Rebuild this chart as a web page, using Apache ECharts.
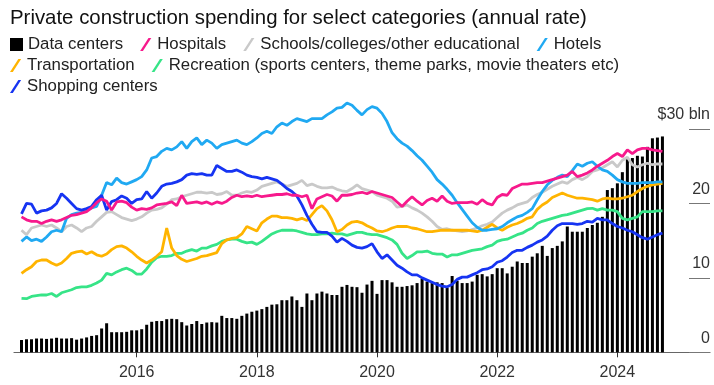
<!DOCTYPE html>
<html>
<head>
<meta charset="utf-8">
<script src="https://cdn.jsdelivr.net/npm/echarts@6/dist/echarts.min.js"></script>
<style>
  html, body { margin: 0; padding: 0; background: #fff; }
  #chart { width: 714px; height: 385px; }
</style>
</head>
<body>
<div id="chart"></div>
<script>
// Monthly private construction spending, Feb 2014 - Oct 2024, $ billions (annual rate)
const dataCenters = [
  1.65, 1.75, 1.75, 1.85, 1.85, 1.8, 1.85, 1.95, 1.85, 1.85,
  1.9, 1.7, 1.85, 2.0, 2.2, 2.3, 3.2, 3.9, 2.7, 2.7,
  2.7, 2.75, 2.95, 2.95, 3.1, 3.7, 4.1, 4.2, 4.2, 4.45,
  4.5, 4.45, 4.05, 3.6, 3.8, 4.2, 3.8, 4.0, 4.05, 4.0,
  4.9, 4.6, 4.6, 4.5, 4.9, 5.2, 5.45, 5.6, 5.8, 6.1,
  6.4, 6.45, 7.0, 7.0, 7.5, 7.0, 6.1, 7.9, 7.0, 7.9,
  8.15, 7.9, 7.7, 7.7, 8.8, 9.05, 8.8, 8.75, 8.0, 9.1,
  9.6, 7.85, 9.7, 9.7, 9.4, 8.8, 8.8, 8.9, 9.0, 9.3,
  9.9, 9.5, 9.3, 9.4, 9.3, 8.7, 10.25, 9.6, 9.3, 9.3,
  9.5, 10.4, 10.5, 10.2, 10.5, 11.3, 11.3, 10.6, 11.5, 12.2,
  12.0, 12.0, 12.85, 13.3, 14.3, 12.95, 14.0, 14.3, 14.9, 16.9,
  16.2, 16.2, 16.2, 16.7, 17.1, 17.4, 18.2, 21.8, 22.05, 22.7,
  24.2, 26.2, 26.1, 26.4, 26.3, 27.6, 28.75, 28.85, 29.0
];
const hospitals = [
  18.2, 17.8, 17.6, 17.6, 17.3, 17.6, 17.8, 17.6, 17.8, 18.1, 18.4, 18.5, 18.7, 18.9, 19.4, 20.1,
  20.6, 20.3, 19.1, 20.2, 20.3, 20.1, 19.5, 19.1, 19.3, 19.2, 19.4, 19.8, 19.9, 20.0, 20.2, 19.7,
  21.1, 20.0, 20.1, 20.2, 20.0, 20.2, 19.9, 20.2, 20.0, 20.3, 20.8, 21.1, 20.9, 21.0, 20.9, 21.1,
  20.9, 21.0, 21.1, 21.2, 21.2, 21.3, 21.1, 21.1, 20.9, 21.1, 19.3, 20.6, 20.9, 21.2, 21.0, 20.3,
  21.1, 21.1, 21.2, 21.4, 21.5, 21.3, 21.6, 21.4, 21.2, 21.0, 20.8, 20.2, 19.6, 20.3, 20.9, 20.3,
  19.8, 20.4, 20.7, 20.3, 21.0, 20.3, 20.0, 20.1, 20.1, 20.1, 20.2, 19.9, 20.5, 20.0, 19.8, 20.8,
  21.2, 21.1, 22.0, 22.3, 22.6, 22.6, 22.7, 22.8, 22.8, 23.0, 23.2, 23.4, 23.6, 23.8, 24.3, 23.6,
  23.8, 24.1, 24.5, 25.0, 25.4, 25.8, 26.3, 26.7, 26.3, 27.2, 26.7, 27.2, 27.4, 27.4, 27.2, 27.1, 27.0
];
const schools = [
  16.4, 15.8, 16.7, 16.9, 17.1, 16.9, 17.1, 16.7, 16.2, 16.9, 17.1, 16.7, 16.2, 16.7, 16.9, 17.6,
  18.2, 18.8, 18.9, 18.5, 18.1, 17.9, 17.7, 17.9, 18.2, 18.7, 19.1, 19.2, 19.4, 19.9, 20.5, 20.6,
  20.9, 21.1, 21.3, 21.5, 21.5, 21.4, 21.5, 21.2, 21.3, 21.6, 21.1, 21.1, 21.4, 21.6, 21.5, 21.8,
  22.3, 22.5, 22.7, 22.9, 22.6, 22.3, 22.5, 22.7, 23.1, 22.4, 22.6, 22.3, 22.1, 22.1, 22.2, 21.9,
  21.7, 21.6, 22.0, 22.5, 22.0, 21.8, 21.6, 21.1, 20.9, 20.7, 20.3, 19.5, 19.6, 19.8, 19.4, 19.1,
  18.7, 18.2, 17.6, 16.9, 16.5, 16.6, 16.4, 16.3, 16.2, 16.3, 16.5, 16.7, 17.0, 17.2, 17.5, 18.1,
  18.7, 19.1, 19.4, 19.8, 20.0, 20.2, 20.8, 21.2, 21.5, 21.9, 22.3, 22.6, 22.9, 22.7, 23.2, 23.5,
  23.2, 23.6, 24.3, 24.5, 24.8, 25.2, 25.6, 24.9, 25.8, 26.2, 25.2, 24.9, 25.2, 25.4, 25.2, 25.3, 25.3
];
const hotels = [
  14.9, 15.5, 15.0, 15.2, 14.9, 15.5, 16.2, 16.4, 16.2, 18.0, 18.5, 18.7, 18.8, 19.1, 19.4, 19.6,
  21.1, 22.8, 22.5, 23.4, 22.8, 22.6, 22.9, 23.2, 23.6, 24.5, 26.1, 26.3, 27.0, 27.4, 27.2, 27.6,
  28.3, 27.4, 28.3, 28.8, 27.9, 28.5, 28.1, 27.4, 27.9, 28.1, 28.3, 28.5, 28.1, 27.9, 28.3, 28.8,
  29.4, 29.7, 29.4, 30.3, 30.8, 30.5, 31.0, 31.4, 31.2, 31.0, 31.4, 31.4, 31.4, 31.9, 32.3, 32.8,
  32.9, 33.5, 33.2, 32.5, 31.9, 32.6, 33.0, 32.8, 32.1, 31.0, 29.5, 28.7, 28.1, 27.7, 27.1, 26.4,
  25.8, 25.0, 24.2, 23.2, 22.6, 21.9, 21.1, 20.1, 19.2, 18.3, 17.4, 16.8, 16.4, 16.4, 16.5, 16.6,
  16.9, 17.4, 17.8, 18.2, 18.4, 18.8, 19.3, 20.5, 21.6, 22.5, 23.1, 23.5, 23.8, 23.6, 24.4, 25.3,
  25.0, 25.4, 25.6, 25.0, 24.5, 24.3, 23.8, 23.2, 22.9, 22.7, 22.7, 22.7, 22.8, 22.8, 22.8, 22.9, 22.9
];
const transportation = [
  10.6, 11.1, 11.5, 12.2, 12.4, 12.4, 12.0, 11.7, 12.0, 12.6, 13.3, 13.5, 13.6, 13.2, 13.5, 13.1,
  12.9, 13.2, 13.8, 14.2, 14.3, 14.0, 13.5, 12.9, 12.4, 12.0, 12.4, 12.9, 13.5, 16.7, 14.0, 13.0,
  12.5, 12.2, 12.4, 12.6, 12.9, 13.0, 13.2, 13.4, 14.6, 15.1, 15.3, 15.4, 15.9, 16.9, 16.6, 16.3,
  17.4, 17.9, 18.3, 18.3, 18.1, 18.1, 18.0, 17.8, 18.0, 17.7, 18.5, 19.3, 19.7, 19.0, 17.8, 16.2,
  16.5, 17.1, 17.5, 17.6, 17.4, 17.0, 16.7, 16.3, 16.2, 16.4, 16.7, 16.9, 16.9, 16.9, 16.7, 16.6,
  16.4, 16.2, 16.2, 16.3, 16.4, 16.4, 16.4, 16.4, 16.4, 16.4, 16.3, 16.2, 16.4, 16.8, 17.2, 16.7,
  16.4, 16.8, 17.1, 17.3, 17.6, 18.0, 18.2, 19.2, 19.8, 20.2, 20.8, 21.1, 21.4, 21.1, 20.9, 20.7,
  20.7, 20.6, 20.5, 20.3, 20.6, 20.7, 20.6, 20.6, 20.7, 20.9, 21.1, 21.6, 22.0, 22.3, 22.5, 22.6, 22.7
];
const recreation = [
  7.25, 7.2, 7.5, 7.6, 7.7, 7.7, 7.9, 7.5, 8.0, 8.2, 8.4, 8.7, 8.8, 8.8, 9.0, 9.3,
  9.7, 10.6, 10.4, 10.8, 11.1, 11.3, 11.0, 10.5, 10.5, 11.2, 12.1, 12.7, 12.9, 12.9, 13.0, 13.3,
  13.3, 13.6, 13.8, 13.6, 14.0, 14.0, 14.3, 14.5, 14.9, 15.1, 15.2, 15.2, 14.9, 14.7, 14.8, 14.5,
  14.9, 15.4, 15.9, 16.2, 16.4, 16.4, 16.4, 16.3, 16.1, 15.9, 15.8, 15.8, 15.9, 15.9, 16.0, 15.9,
  15.9, 15.7, 15.9, 16.1, 16.1, 15.9, 15.8, 15.8, 15.6, 15.4, 15.1, 14.5, 13.3, 12.6, 13.0, 13.5,
  13.5, 13.6, 13.3, 13.2, 13.2, 12.8, 13.1, 13.1, 13.3, 13.5, 13.7, 13.8, 13.9, 14.2, 14.4, 14.9,
  15.1, 15.2, 15.5, 15.8, 16.0, 16.4, 16.7, 17.3, 17.6, 17.8, 18.0, 18.2, 18.4, 18.5, 18.7, 18.9,
  19.1, 19.3, 19.35, 19.1, 19.3, 19.1, 19.1, 18.9, 18.0, 17.8, 18.0, 18.2, 18.9, 18.9, 18.9, 19.0, 19.0
];
const shopping = [
  18.6, 20.0, 19.9, 18.7, 19.0, 19.1, 19.4, 20.0, 21.3, 20.7, 20.0, 19.3, 19.1, 19.3, 19.6, 20.5,
  21.1, 19.1, 20.25, 20.5, 21.0, 20.7, 20.0, 20.5, 20.6, 21.6, 20.7, 21.4, 22.3, 22.6, 22.7, 22.9,
  23.2, 23.8, 24.0, 23.9, 24.0, 23.8, 23.8, 25.1, 24.7, 24.3, 24.3, 24.5, 24.2, 23.8, 23.6, 23.5,
  23.3, 23.5, 23.3, 23.1, 22.6, 22.0, 21.6, 21.0, 19.8, 18.4, 17.2, 16.2, 16.1, 16.1, 15.6, 14.8,
  15.3, 14.9, 14.4, 14.1, 14.0, 14.2, 14.6, 13.5, 12.6, 13.1, 12.4, 11.7, 11.3, 10.8, 10.4, 10.4,
  10.0, 9.7, 9.4, 9.1, 8.9, 8.8, 9.1, 9.8, 10.1, 10.1, 10.4, 10.7, 11.1, 11.2, 11.5, 12.1,
  12.3, 12.8, 13.4, 13.7, 13.7, 14.1, 14.4, 14.8, 15.1, 15.6, 16.4, 17.0, 17.3, 17.3, 17.3, 17.2,
  17.3, 17.6, 17.5, 18.0, 17.8, 17.8, 17.3, 16.9, 16.7, 16.4, 16.2, 15.8, 15.4, 15.2, 15.5, 15.8, 16.0
];

// Axis ticks
const yearLabels = ['2016', '2018', '2020', '2022', '2024'];
const valueTicks = [0, 10, 20, 30];

// Monthly categories Jan 2014 - Jul 2025; the series start one month in (Feb 2014)
const months = [];
for (let i = 0; i < 139; i++) {
  const y = 2014 + Math.floor(i / 12);
  const m = (i % 12) + 1;
  months.push(y + '-' + String(m).padStart(2, '0'));
}
const pad = (arr) => [null].concat(arr);

const FONT = "'Liberation Sans', Arial, Helvetica, sans-serif";
const isYearTick = (idx, val) => val.slice(5) === '01' && yearLabels.indexOf(val.slice(0, 4)) >= 0;

const SLASH = 'path://M0,14 L9,0 L12,0 L3,14 Z';
const SQUARE = 'path://M0,0 L12,0 L12,12 L0,12 Z';

const colors = {
  hospitals: '#f7198c',
  schools: '#c9c9c9',
  hotels: '#20a9f2',
  transportation: '#ffb400',
  recreation: '#36e487',
  shopping: '#1634f2'
};

function legendRow(top, names) {
  return {
    top: top, left: 10, padding: 0,
    itemWidth: 13, itemHeight: 13, itemGap: 17,
    selectedMode: false,
    textStyle: { fontSize: 16.8, color: '#222', fontFamily: FONT },
    data: names.map(n => ({ name: n, icon: n === 'Data centers' ? SQUARE : SLASH }))
  };
}

function lineSeries(name, values, color) {
  return {
    name: name, type: 'line', data: pad(values),
    symbol: 'none', showSymbol: false, clip: false, silent: true,
    lineStyle: { width: 2.8, color: color },
    itemStyle: { color: color },
    emphasis: { disabled: true }
  };
}

const chart = echarts.init(document.getElementById('chart'), null, { renderer: 'canvas' });
chart.setOption({
  animation: false,
  backgroundColor: '#fff',
  title: {
    text: 'Private construction spending for select categories (annual rate)',
    left: 10, top: 8, padding: 0,
    textStyle: { fontSize: 20.4, fontWeight: 'normal', color: '#111', fontFamily: FONT }
  },
  legend: [
    legendRow(36, ['Data centers', 'Hospitals', 'Schools/colleges/other educational', 'Hotels']),
    legendRow(57, ['Transportation', 'Recreation (sports centers, theme parks, movie theaters etc)']),
    legendRow(78, ['Shopping centers'])
  ],
  grid: { left: 14, right: 4, top: 129, bottom: 32.7, containLabel: false, outerBoundsMode: 'none' },
  xAxis: {
    type: 'category', data: months, boundaryGap: true,
    axisLine: { show: true, lineStyle: { color: '#666', width: 1.2 } },
    axisTick: { show: true, alignWithLabel: true, interval: isYearTick, length: 5, lineStyle: { color: '#333', width: 1 } },
    axisLabel: {
      interval: isYearTick, margin: 12,
      formatter: (v) => v.slice(0, 4),
      fontSize: 16, color: '#333', fontFamily: FONT
    },
    splitLine: { show: false }
  },
  yAxis: {
    type: 'value', position: 'right', min: valueTicks[0], max: valueTicks[valueTicks.length - 1], interval: 10,
    axisLine: { show: false },
    axisTick: { show: true, inside: true, length: 21, lineStyle: { color: '#777', width: 1 } },
    axisLabel: {
      inside: true, margin: 0, verticalAlign: 'bottom', padding: [0, 0, 6, 0],
      formatter: (v) => (v === 30 ? '$30 bln' : String(v)),
      fontSize: 16, color: '#333', fontFamily: FONT
    },
    splitLine: { show: false }
  },
  series: [
    {
      name: 'Data centers', type: 'bar', data: pad(dataCenters),
      barWidth: 3, silent: true,
      itemStyle: { color: '#000' }, emphasis: { disabled: true }
    },
    lineSeries('Schools/colleges/other educational', schools, colors.schools),
    lineSeries('Recreation (sports centers, theme parks, movie theaters etc)', recreation, colors.recreation),
    lineSeries('Transportation', transportation, colors.transportation),
    lineSeries('Hotels', hotels, colors.hotels),
    lineSeries('Shopping centers', shopping, colors.shopping),
    lineSeries('Hospitals', hospitals, colors.hospitals)
  ]
});
</script>
</body>
</html>
